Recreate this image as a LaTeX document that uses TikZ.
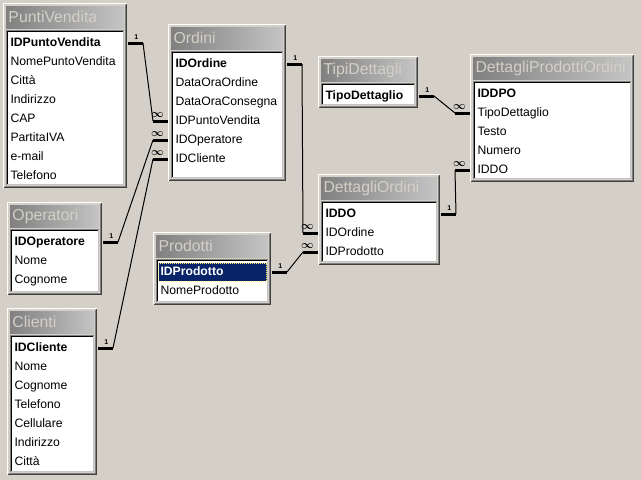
\documentclass[tikz,border=0pt]{standalone}
\usepackage{fontspec}
\setmainfont{Liberation Sans}
\usetikzlibrary{calc}
\definecolor{winbg}{RGB}{212,208,200}
\definecolor{wingray}{RGB}{128,128,128}
\definecolor{winlite}{RGB}{196,196,196}
\definecolor{windark}{RGB}{64,64,64}
\definecolor{selblue}{RGB}{10,36,106}
\newcommand{\titlefont}{\fontsize{15.8}{18}\selectfont}
\newcommand{\fieldfont}{\fontsize{12.2}{14}\selectfont}
\tikzset{
    titlebar/.style={left color=wingray,right color=winlite},
    tabtitle/.style={anchor=west,inner sep=0pt,text=winbg,font=\titlefont},
    field/.style={
        anchor=west,inner xsep=2pt,inner ysep=0pt,minimum height=18pt,
        text height=9pt,text depth=2.5pt,align=left,font=\fieldfont
    },
    keyfield/.style={field,font=\fieldfont\bfseries},
    selfield/.style={fill=selblue,text=white,draw=yellow!60!white,densely dotted},
    keyline/.style={line width=3pt},
    relline/.style={line width=1pt},
    onelbl/.style={font=\fontsize{7}{8}\selectfont\bfseries,inner sep=1pt},
    manylbl/.style={font=\fontsize{11}{12}\selectfont\boldmath,inner sep=0pt}
}
% table: [key style] name, left, top, right, bottom, title, key, other fields
\newcommand{\acctable}[9][]{%
  \fill[winbg] (#3,#4) rectangle (#5,#6);
  \draw[white] (#3+0.5,#6-0.5) |- (#5-0.5,#4+0.5);
  \draw[windark] (#3+0.5,#6-0.5) -| (#5-0.5,#4+0.5);
  \draw[wingray] (#3+1.5,#6-1.5) -| (#5-1.5,#4+1.5);
  \shade[titlebar] (#3+3,#4+3) rectangle (#5-3,#4+25);
  \node[tabtitle] (#2) at (#3+5,#4+14) {#7};
  \fill[white] (#3+3,#4+27) rectangle (#5-3,#6-3);
  \draw[winlite] (#3+3.5,#6-3.5) -| (#5-3.5,#4+27.5);
  \draw[wingray] (#3+3.5,#6-3.5) |- (#5-3.5,#4+27.5);
  \draw[black] (#3+4.5,#6-4.5) |- (#5-4.5,#4+28.5);
  \pgfmathsetmacro\fw{#5-#3-14}
  \node[keyfield,text width=\fw pt,#1] (#2-1) at (#3+5,#4+40) {#8};
  \if\relax\detokenize{#9}\relax\else
  \foreach \f [count=\i from 2] in {#9}
    \node[field,text width=\fw pt] (#2-\i) at (#3+5,{#4+21+\i*19}) {\f};
  \fi
}
% one-to-many link between two field rows
\newcommand{\relate}[2]{%
  \draw[keyline] ([xshift=5pt]#1.east) -- ([xshift=20pt]#1.east)
    node[pos=0.55,above=1.5pt,onelbl]{1};
  \draw[relline] ([xshift=20pt]#1.east) -- ([xshift=-20pt]#2.west);
  \draw[keyline] ([xshift=-20pt]#2.west) -- ([xshift=-5pt]#2.west)
    node[pos=0.3,above=2.5pt,manylbl]{$\infty$};
}

\begin{document}
\begin{tikzpicture}[x=1pt,y=-1pt,line width=1pt]

\fill[winbg] (0,0) rectangle (641,480);
\useasboundingbox (0,0) rectangle (641,480);

\acctable{pv}{3}{3}{127}{188}{PuntiVendita}{IDPuntoVendita}
  {NomePuntoVendita,Città,Indirizzo,CAP,PartitaIVA,e-mail,Telefono}
\acctable{or}{168}{24}{286}{181}{Ordini}{IDOrdine}
  {DataOraOrdine,DataOraConsegna,IDPuntoVendita,IDOperatore,IDCliente}
\acctable{td}{318}{56}{418}{108}{TipiDettagli}{TipoDettaglio}{}
\acctable{dpo}{470}{54}{634}{182}{DettagliProdottiOrdini}{IDDPO}
  {TipoDettaglio,Testo,Numero,IDDO}
\acctable{do}{318}{174}{440}{265}{DettagliOrdini}{IDDO}
  {IDOrdine,IDProdotto}
\acctable[selfield]{pd}{153}{232}{271}{305}{Prodotti}{IDProdotto}
  {NomeProdotto}
\acctable{op}{7}{202}{102}{295}{Operatori}{IDOperatore}
  {Nome,Cognome}
\acctable{cl}{7}{308}{97}{475}{Clienti}{IDCliente}
  {Nome,Cognome,Telefono,Cellulare,Indirizzo,Città}

\relate{pv-1}{or-4}
\relate{op-1}{or-5}
\relate{cl-1}{or-6}
\relate{or-1}{do-2}
\relate{pd-1}{do-3}
\relate{td-1}{dpo-2}
\relate{do-1}{dpo-5}

\end{tikzpicture}
\end{document}
